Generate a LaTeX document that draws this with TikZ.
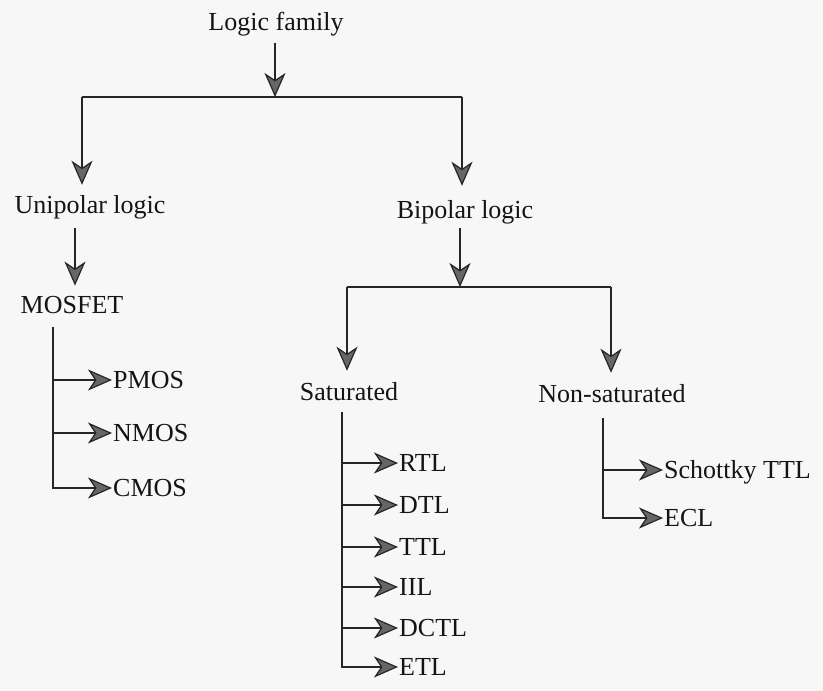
\documentclass[tikz,border=0pt]{standalone}
\usepackage{fontspec}
\setmainfont{Liberation Serif}
\usetikzlibrary{arrows.meta}
\begin{document}
\begin{tikzpicture}[x=1pt,y=-1pt,
  lbl/.style={font=\fontsize{26}{31}\selectfont, inner sep=1pt, text=black!92},
  leaf/.style={lbl, anchor=west, text height=17pt, text depth=0pt},
  wire/.style={line width=1.9pt, draw=black!85},
  arr/.style={wire, -{Stealth[length=24pt,width=21pt,inset=7pt,fill=black!60,line width=1.2pt]}},
]
% page
\fill[black!3] (0,0) rectangle (823,691);
\useasboundingbox (0,0) rectangle (823,691);

% ---- text nodes
\node[lbl, anchor=base] (lf)   at (276,30)  {Logic family};
\node[lbl, anchor=base] (uni)  at (90,213)  {Unipolar logic};
\node[lbl, anchor=base] (bi)   at (465,218) {Bipolar logic};
\node[lbl, anchor=base] (mos)  at (72,313)  {MOSFET};
\node[lbl, anchor=base] (sat)  at (349,400) {Saturated};
\node[lbl, anchor=base] (nsat) at (612,402) {Non-saturated};

\node[leaf] (pmos) at (112,380) {PMOS};
\node[leaf] (nmos) at (112,433) {NMOS};
\node[leaf] (cmos) at (112,488) {CMOS};

\node[leaf] (rtl)  at (398,463) {RTL};
\node[leaf] (dtl)  at (398,505) {DTL};
\node[leaf] (ttl)  at (398,547) {TTL};
\node[leaf] (iil)  at (398,587) {IIL};
\node[leaf] (dctl) at (398,628) {DCTL};
\node[leaf] (etl)  at (398,667) {ETL};

\node[leaf] (stl)  at (663,470) {Schottky TTL};
\node[leaf] (ecl)  at (663,518) {ECL};

% ---- junction points
\coordinate (j0) at (275,97);
\coordinate (jl) at (82,97);
\coordinate (jr) at (462,97);
\coordinate (b0) at (460,287);
\coordinate (bl) at (347,287);
\coordinate (br) at (611,287);
\coordinate (m0) at (53,327);
\coordinate (s0) at (342,412);
\coordinate (n0) at (603,418);

% ---- first level
\draw[arr, shorten <=6pt] (j0 |- lf.south) -- (j0);
\draw[wire] (jl) -- (jr);
\draw[arr, shorten >=9pt] (jl) -- (jl |- uni.north);
\draw[arr, shorten >=13pt] (jr) -- (jr |- bi.north);

% ---- unipolar branch
\draw[arr, shorten <=8pt, shorten >=9pt] (75,0 |- uni.south) -- (75,0 |- mos.north);
\draw[arr] (m0) |- (pmos.west);
\draw[arr] (m0) |- (nmos.west);
\draw[arr] (m0) |- (cmos.west);

% ---- bipolar branch
\draw[arr, shorten <=3pt] (b0 |- bi.south) -- (b0);
\draw[wire] (bl) -- (br);
\draw[arr, shorten >=10pt] (bl) -- (bl |- sat.north);
\draw[arr, shorten >=10pt] (br) -- (br |- nsat.north);

\draw[arr] (s0) |- (rtl.west);
\draw[arr] (s0) |- (dtl.west);
\draw[arr] (s0) |- (ttl.west);
\draw[arr] (s0) |- (iil.west);
\draw[arr] (s0) |- (dctl.west);
\draw[arr] (s0) |- (etl.west);

\draw[arr] (n0) |- (stl.west);
\draw[arr] (n0) |- (ecl.west);
\end{tikzpicture}
\end{document}
